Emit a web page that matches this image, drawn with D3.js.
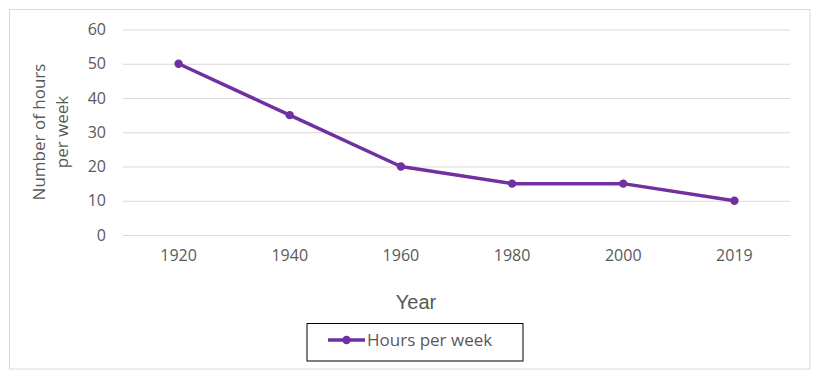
<!DOCTYPE html>
<html>
<head>
<meta charset="utf-8">
<script src="https://cdn.jsdelivr.net/npm/d3@7"></script>
<style>
  body { margin: 0; background: #fff; }
  text { font-family: "Open Sans", Lato, sans-serif; fill: #595959; }
</style>
</head>
<body>
<div class="chart"></div>
<script>
// chart data
var years = ["1920", "1940", "1960", "1980", "2000", "2019"];
var hours = [50, 35, 20, 15, 15, 10];
var yTicks = [0, 10, 20, 30, 40, 50, 60];

var svgWidth = 819, svgHeight = 380;
var plot = { left: 123, right: 790, top: 29.5, bottom: 235 };
var lineColor = "#7030A0";
var fontFam = "'Open Sans', Lato, sans-serif";

var svg = d3.select(".chart").append("svg")
  .attr("width", svgWidth)
  .attr("height", svgHeight);

// outer chart border
svg.append("rect")
  .attr("x", 9.5).attr("y", 9.5)
  .attr("width", 800.5).attr("height", 359.5)
  .attr("fill", "none")
  .attr("stroke", "#d9d9d9");

var xScale = d3.scaleBand()
  .domain(years)
  .range([plot.left, plot.right]);

var yScale = d3.scaleLinear()
  .domain([0, 60])
  .range([plot.bottom, plot.top]);

// gridlines + y labels
var yAxis = d3.axisLeft(yScale)
  .tickValues(yTicks)
  .tickSize(-(plot.right - plot.left))
  .tickPadding(17);

var yG = svg.append("g")
  .attr("transform", `translate(${plot.left},0)`)
  .call(yAxis);
yG.select(".domain").remove();
yG.selectAll("line").attr("stroke", "#d9d9d9");
yG.selectAll("text")
  .style("font-size", "16px")
  .attr("fill", "#595959")
  .style("font-family", fontFam);

// x labels
var xAxis = d3.axisBottom(xScale).tickSize(0).tickPadding(15);
var xG = svg.append("g")
  .attr("transform", `translate(0,${plot.bottom})`)
  .call(xAxis);
xG.select(".domain").remove();
xG.selectAll("text")
  .style("font-size", "16px")
  .attr("fill", "#595959")
  .style("font-family", fontFam);

// line
var line = d3.line()
  .x((d, i) => xScale(years[i]) + xScale.bandwidth() / 2)
  .y(d => yScale(d));

svg.append("path")
  .datum(hours)
  .attr("d", line)
  .attr("fill", "none")
  .attr("stroke", lineColor)
  .attr("stroke-width", 3.5)
  .attr("stroke-linejoin", "round");

svg.selectAll(".pt")
  .data(hours)
  .enter()
  .append("circle")
  .attr("class", "pt")
  .attr("cx", (d, i) => xScale(years[i]) + xScale.bandwidth() / 2)
  .attr("cy", d => yScale(d))
  .attr("r", 4.2)
  .attr("fill", lineColor);

// axis titles
var yTitle = svg.append("text")
  .attr("transform", "translate(45,132) rotate(-90)")
  .attr("text-anchor", "middle")
  .style("font-size", "17px");
yTitle.append("tspan").attr("x", 0).attr("dy", 0).text("Number of hours");
yTitle.append("tspan").attr("x", 0).attr("dy", 23).text("per week");

svg.append("text")
  .attr("x", 416)
  .attr("y", 309)
  .attr("text-anchor", "middle")
  .style("font-family", "'Liberation Sans', Arial, sans-serif")
  .style("font-size", "20px")
  .text("Year");

// legend
var legend = svg.append("g");
legend.append("rect")
  .attr("x", 307).attr("y", 323.5)
  .attr("width", 216).attr("height", 37.5)
  .attr("fill", "#fff")
  .attr("stroke", "#000");
legend.append("line")
  .attr("x1", 328).attr("x2", 365)
  .attr("y1", 340).attr("y2", 340)
  .attr("stroke", lineColor)
  .attr("stroke-width", 3.5);
legend.append("circle")
  .attr("cx", 346.5).attr("cy", 340).attr("r", 4.2)
  .attr("fill", lineColor);
legend.append("text")
  .attr("x", 367).attr("y", 346)
  .style("font-size", "17px")
  .text("Hours per week");
</script>
</body>
</html>
